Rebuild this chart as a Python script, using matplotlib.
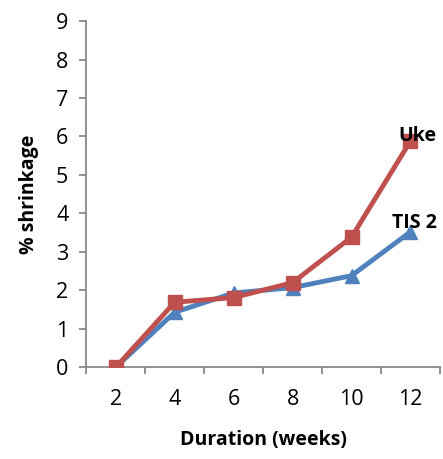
import matplotlib
matplotlib.use("Agg")
import matplotlib.pyplot as plt

weeks = ["2", "4", "6", "8", "10", "12"]
tis2 = [0.0, 1.43, 1.93, 2.07, 2.38, 3.52]
uke = [0.0, 1.69, 1.81, 2.2, 3.38, 5.88]

plt.rcParams['font.family'] = ['Open Sans', 'DejaVu Sans']

fig = plt.figure(figsize=(4.43, 4.59), dpi=100)
ax = fig.add_axes([0.195, 0.2, 0.798, 0.754])

x = list(range(len(weeks)))
ax.plot(x, tis2, color='#4F81BD', lw=3.5, marker='^', ms=10, zorder=3)
ax.plot(x, uke, color='#C0504D', lw=3.5, marker='s', ms=10, zorder=4)

ax.text(x[-1] + 0.45, uke[-1] - 0.12, "Uke", fontsize=14, fontweight='bold',
        ha='right', va='bottom', zorder=6)
ax.text(x[-1] + 0.45, tis2[-1] - 0.02, "TIS 2", fontsize=14, fontweight='bold',
        ha='right', va='bottom', zorder=6)

ax.set_xlim(-0.5, len(weeks) - 0.5)
ax.set_ylim(0, 9)
ax.set_yticks(range(10))
ax.set_xticks([i - 0.5 for i in range(len(weeks) + 1)], minor=False)
ax.set_xticklabels([])
ax.set_xticks(x, minor=True)
ax.set_xticklabels(weeks, minor=True)
ax.tick_params(axis='x', which='minor', length=0, labelsize=15.5, pad=16)
ax.tick_params(axis='x', which='major', length=5, color='#888888', width=1.3)
ax.tick_params(axis='y', length=5, color='#888888', width=1.3, labelsize=15.5, pad=8)

for s in ['top', 'right']:
    ax.spines[s].set_visible(False)
for s in ['left', 'bottom']:
    ax.spines[s].set_color('#888888')
    ax.spines[s].set_linewidth(1.3)

ax.set_xlabel("Duration (weeks)", fontsize=14, fontweight='bold', labelpad=14)
ax.set_ylabel("% shrinkage", fontsize=14, fontweight='bold', labelpad=12)

fig.savefig("out.png", dpi=100)
